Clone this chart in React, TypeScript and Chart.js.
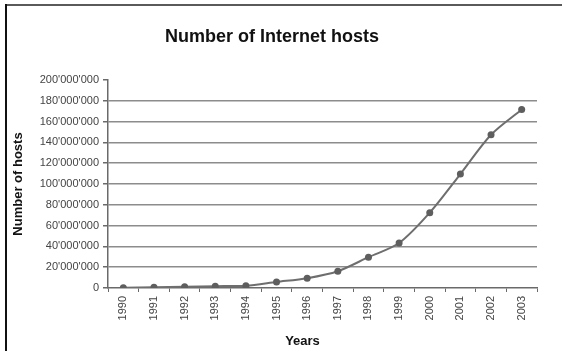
import React, { useEffect, useRef } from "react";
import { Chart, registerables } from "chart.js";

Chart.register(...registerables);

// Internet host counts per year (January surveys)
const years = ["1990", "1991", "1992", "1993", "1994", "1995", "1996", "1997", "1998", "1999", "2000", "2001", "2002", "2003"];
const hosts = [313000, 617000, 1136000, 1776000, 2217000, 5846000, 9472000, 16146000, 29670000, 43230000, 72398000, 109574000, 147345000, 171638000];

const yMin = 0;
const yMax = 200000000;
const yStep = 20000000;

const chartTitle = "Number of Internet hosts";
const xTitle = "Years";
const yTitle = "Number of hosts";

const FONT = "Arial, 'Liberation Sans', sans-serif";

// 200000000 -> 200'000'000
function withApostrophes(v: number): string {
  return String(Math.round(v)).replace(/\B(?=(\d{3})+(?!\d))/g, "'");
}

// White page with the frame lines along the top and left edges
const framePlugin = {
  id: "frame",
  beforeDraw(chart: any) {
    const { ctx, width, height } = chart;
    ctx.save();
    ctx.fillStyle = "#ffffff";
    ctx.fillRect(0, 0, width, height);
    ctx.fillStyle = "#5a5a5a";
    ctx.fillRect(6, 4, width - 6, 2);
    ctx.fillStyle = "#111111";
    ctx.fillRect(5, 4, 2, height - 4);
    ctx.restore();
  },
};

// Category axis caption, set a little left of the plot centre
const xCaptionPlugin = {
  id: "xCaption",
  afterDraw(chart: any) {
    const { ctx, chartArea, height } = chart;
    ctx.save();
    ctx.fillStyle = "#111111";
    ctx.font = `bold 13px ${FONT}`;
    ctx.textAlign = "center";
    ctx.textBaseline = "middle";
    ctx.fillText(xTitle, (chartArea.left + chartArea.right) / 2 - 20, height - 10);
    ctx.restore();
  },
};

export default function App() {
  const canvasRef = useRef<HTMLCanvasElement | null>(null);

  useEffect(() => {
    const canvas = canvasRef.current;
    if (!canvas) return;
    const chart = new Chart(canvas, {
      type: "line",
      data: {
        labels: years,
        datasets: [
          {
            data: hosts,
            borderColor: "#6e6e6e",
            borderWidth: 2,
            backgroundColor: "#5e5e5e",
            pointBackgroundColor: "#5e5e5e",
            pointBorderColor: "#5e5e5e",
            pointRadius: 3.5,
            pointBorderWidth: 0,
            tension: 0.3,
            fill: false,
          },
        ],
      },
      options: {
        responsive: false,
        animation: false,
        layout: { padding: { left: 7, right: 25, top: 0, bottom: 0 } },
        plugins: {
          legend: { display: false },
          tooltip: { enabled: false },
          title: {
            display: true,
            text: chartTitle,
            color: "#111111",
            font: { family: FONT, size: 18, weight: "bold" },
            padding: { top: 26, bottom: 32.4 },
          },
        },
        scales: {
          x: {
            type: "category",
            offset: true,
            grid: {
              offset: true,
              drawOnChartArea: false,
              drawTicks: true,
              tickLength: 4,
              tickColor: "#6a6a6a",
            },
            border: { display: true, color: "#6a6a6a", width: 1.5 },
            ticks: {
              minRotation: 90,
              maxRotation: 90,
              autoSkip: false,
              padding: 4,
              color: "#444444",
              font: { family: FONT, size: 11 },
            },
            afterFit: (scale: any) => {
              scale.height = 63;
            },
          },
          y: {
            min: yMin,
            max: yMax,
            ticks: {
              stepSize: yStep,
              padding: 4,
              color: "#444444",
              font: { family: FONT, size: 11 },
              callback: (v: any) => withApostrophes(Number(v)),
            },
            grid: {
              drawTicks: true,
              tickLength: 5,
              lineWidth: 1.5,
              color: (c: any) =>
                c.tick && (c.tick.value === yMax || c.tick.value === yMin) ? "rgba(0,0,0,0)" : "#8c8c8c",
              tickColor: "#6a6a6a",
            },
            border: { display: true, color: "#6a6a6a", width: 1.5 },
            title: {
              display: true,
              text: yTitle,
              color: "#111111",
              font: { family: FONT, size: 13, weight: "bold" },
              padding: { top: 3.2, bottom: 0 },
            },
            afterFit: (scale: any) => {
              scale.width = 101;
            },
          },
        },
      },
      plugins: [framePlugin, xCaptionPlugin],
    });
    return () => chart.destroy();
  }, []);

  return (
    <div style={{ position: "fixed", left: 0, top: 0, width: 562, height: 351, background: "#fff" }}>
      <canvas ref={canvasRef} width={562} height={351} style={{ display: "block", width: 562, height: 351 }} />
    </div>
  );
}
